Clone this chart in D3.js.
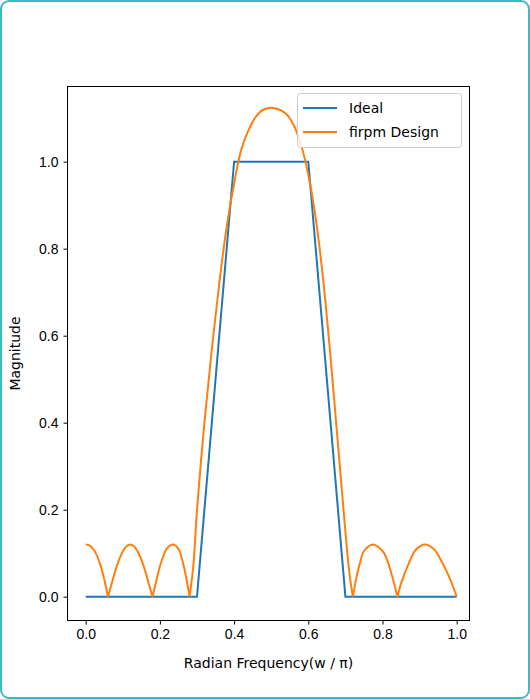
<!DOCTYPE html>
<html><head><meta charset="utf-8">
<script src="https://cdn.jsdelivr.net/npm/d3@7"></script>
<style>
body{margin:0;background:#fff;}
svg{font-family:"DejaVu Sans",sans-serif;}
</style></head>
<body>
<svg id="chart" width="530" height="699"></svg>
<script>
const idealX = [0, 0.3, 0.4, 0.6, 0.7, 1.0];
const idealY = [0, 0, 1, 1, 0, 0];
const firX = [0,0.01,0.02,0.03,0.04,0.05,0.06,
  0.07,0.08,0.09,0.10,0.11,0.12,0.13,0.14,0.15,0.16,0.17,0.18,
  0.19,0.20,0.21,0.22,0.235,0.25,0.26,0.27,0.28,
  0.29,0.30,0.32,0.34,0.36,0.38,0.40,0.42,0.44,0.46,0.48,0.51,0.54,0.56,0.58,0.60,0.62,0.64,0.66,0.68,0.70,0.71,0.72,
  0.73,0.74,0.75,0.775,0.80,0.81,0.82,0.83,0.84,
  0.85,0.87,0.89,0.915,0.94,0.96,0.98,1.0];
const firY = [0.12,0.118,0.11,0.095,0.072,0.04,0,
  0.03,0.06,0.085,0.104,0.116,0.12,0.116,0.104,0.085,0.06,0.03,0,
  0.035,0.07,0.095,0.112,0.12,0.11,0.085,0.048,0,
  0.07,0.2,0.4,0.57,0.72,0.85,0.95,1.03,1.075,1.105,1.12,1.123,1.11,1.085,1.04,0.97,0.87,0.73,0.55,0.35,0.15,0.06,0,
  0.045,0.08,0.105,0.12,0.105,0.09,0.065,0.035,0,
  0.03,0.075,0.108,0.12,0.108,0.08,0.045,0];
const xTicks = [0, 0.2, 0.4, 0.6, 0.8, 1.0];
const yTicks = [0, 0.2, 0.4, 0.6, 0.8, 1.0];

const svg = d3.select("#chart");
svg.append("rect").attr("x",1).attr("y",1).attr("width",528).attr("height",697)
  .attr("rx",8).attr("fill","#fff").attr("stroke","#3db8c6").attr("stroke-width",2);

const L = 67.5, R = 469.5, T = 86.5, B = 620.5;
const x = d3.scaleLinear().domain([0,1]).range([85.7, 456.7]);
const y = d3.scaleLinear().domain([0,1]).range([596.7, 161.7]);

const xa = svg.append("g").attr("transform",`translate(0,${B})`)
  .call(d3.axisBottom(x).tickValues(xTicks).tickFormat(d3.format(".1f")).tickSizeOuter(0).tickSize(4).tickPadding(5));
const ya = svg.append("g").attr("transform",`translate(${L},0)`)
  .call(d3.axisLeft(y).tickValues(yTicks).tickFormat(d3.format(".1f")).tickSizeOuter(0).tickSize(4).tickPadding(5));
[xa,ya].forEach(a=>{a.select(".domain").remove();a.selectAll("text").attr("font-size",14).attr("fill","#000");a.selectAll("line").attr("stroke","#000");});

const line = d3.line().x(d=>x(d[0])).y(d=>y(d[1]));
svg.append("path").datum(idealX.map((v,i)=>[v,idealY[i]]))
  .attr("d",line).attr("fill","none").attr("stroke","#1f77b4").attr("stroke-width",2);

// split the response at its zeros so each lobe is smoothed on its own, keeping the cusps
const pts = firX.map((v,i)=>[v,firY[i]]);
const segs = []; let cur = [pts[0]];
pts.slice(1).forEach(p=>{cur.push(p); if(p[1]===0){segs.push(cur); cur=[p];}});
const smooth = d3.line().x(d=>x(d[0])).y(d=>y(d[1])).curve(d3.curveCatmullRom);
svg.append("path").attr("d",segs.map(s=>smooth(s)).join(""))
  .attr("fill","none").attr("stroke","#ff7f0e").attr("stroke-width",2);

svg.append("rect").attr("x",L).attr("y",T).attr("width",R-L).attr("height",B-T)
  .attr("fill","none").attr("stroke","#000").attr("stroke-width",1);

svg.append("text").attr("x",(L+R)/2).attr("y",668).attr("text-anchor","middle")
  .attr("font-size",14).text("Radian Frequency(w / π)");
svg.append("text").attr("transform",`translate(20,${(T+B)/2}) rotate(-90)`).attr("text-anchor","middle")
  .attr("font-size",14).text("Magnitude");

const lg = svg.append("g");
lg.append("rect").attr("x",297.5).attr("y",93.5).attr("width",164).attr("height",54).attr("rx",3)
  .attr("fill","#fff").attr("fill-opacity",0.8).attr("stroke","#ccc");
const names = ["Ideal","firpm Design"], cols = ["#1f77b4","#ff7f0e"];
names.forEach((n,i)=>{
  const yy = 108 + i*24;
  lg.append("line").attr("x1",303).attr("x2",337).attr("y1",yy).attr("y2",yy).attr("stroke",cols[i]).attr("stroke-width",2);
  lg.append("text").attr("x",349).attr("y",yy+5).attr("font-size",14).text(n);
});
</script>
</body></html>
